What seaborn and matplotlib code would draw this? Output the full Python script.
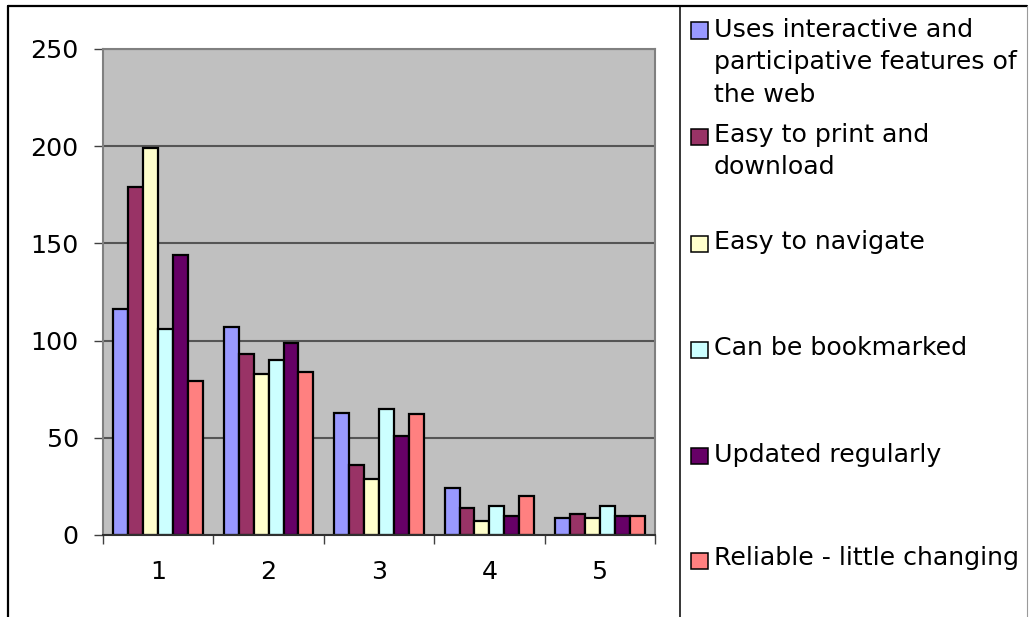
import numpy as np
import pandas as pd
import matplotlib
matplotlib.use("Agg")
import matplotlib.pyplot as plt
from matplotlib.patches import Rectangle
from matplotlib.lines import Line2D
import seaborn as sns

# ---- data -------------------------------------------------------------
ranks = ["1", "2", "3", "4", "5"]
features = [
    "Uses interactive and\nparticipative features of\nthe web",
    "Easy to print and\ndownload",
    "Easy to navigate",
    "Can be bookmarked",
    "Updated regularly",
    "Reliable - little changing",
]
uses_interactive = [116, 107, 63, 24, 9]
easy_print = [179, 93, 36, 14, 11]
easy_navigate = [199, 83, 29, 7, 9]
bookmarked = [106, 90, 65, 15, 15]
updated = [144, 99, 51, 10, 10]
reliable = [79, 84, 62, 20, 10]

colors = ["#9999FF", "#993366", "#FFFFCC", "#CCFFFF", "#660066", "#FF8080"]
y_ticks = [0, 50, 100, 150, 200, 250]

series = [uses_interactive, easy_print, easy_navigate, bookmarked, updated, reliable]
df = pd.DataFrame(
    [(r, f, v) for f, vals in zip(features, series) for r, v in zip(ranks, vals)],
    columns=["rank", "feature", "count"],
)

# ---- figure -----------------------------------------------------------
W, H = 1030, 617
sns.set_style("white")
plt.rcParams["font.family"] = ["DejaVu Sans"]
plt.rcParams["text.color"] = "black"
plt.rcParams["xtick.labelcolor"] = "black"
plt.rcParams["ytick.labelcolor"] = "black"
FS = 18.2

fig = plt.figure(figsize=(W / 100, H / 100), dpi=100, facecolor="white")


def fx(px):
    return px / W


def fy(py):
    return 1 - py / H


ax = fig.add_axes([fx(103), fy(535), fx(655) - fx(103), fy(49) - fy(535)])
ax.set_facecolor("#C0C0C0")

sns.barplot(
    data=df, x="rank", y="count", hue="feature", order=ranks, hue_order=features,
    palette=colors, width=0.81, edgecolor="black", linewidth=1.6,
    saturation=1, legend=False, ax=ax, errorbar=None,
)

ax.set_xlim(-0.5, len(ranks) - 0.5)
ax.set_ylim(0, 250)
ax.set_yticks(y_ticks)
ax.set_yticklabels([str(t) for t in y_ticks], fontsize=FS, color="black")
ax.set_xlabel("")
ax.set_ylabel("")
ax.yaxis.grid(True, color="#555555", linewidth=1.5)
ax.set_axisbelow(True)

ax.tick_params(axis="y", length=6.5, width=1.0, color="#404040", pad=11.0, left=True,
               labelcolor="black")
ax.tick_params(axis="x", which="major", length=0, pad=18, labelsize=FS, labelcolor="black")
ax.set_xticks(np.arange(-0.5, len(ranks)), minor=True)
ax.tick_params(axis="x", which="minor", length=6.5, width=1.0, color="#404040", bottom=True)

for side in ["left", "top", "right"]:
    ax.spines[side].set_color("#808080")
    ax.spines[side].set_linewidth(1.5)
ax.spines["bottom"].set_color("#303030")
ax.spines["bottom"].set_linewidth(1.5)

# ---- chart frame and legend box ----------------------------------------
fig.add_artist(Line2D([fx(7.5), fx(1027)], [fy(6), fy(6)], color="black", lw=1.6,
                      transform=fig.transFigure))
fig.add_artist(Line2D([fx(7.5), fx(7.5)], [fy(6), fy(H + 5)], color="black", lw=1.6,
                      transform=fig.transFigure))
fig.add_artist(Line2D([fx(680), fx(680)], [fy(6), fy(H + 5)], color="black", lw=1.1,
                      transform=fig.transFigure))
fig.add_artist(Line2D([fx(1026.5), fx(1026.5)], [fy(6), fy(H + 5)], color="#9a9a9a", lw=0.8,
                      transform=fig.transFigure))

# legend entries: marker centre and first-line baseline (pixels)
marker_y = [30.5, 137, 244, 349.5, 455.5, 561]
baseline_y = [37, 142, 249, 355, 462, 565]
line_step = 32.5
for label, col, my, by in zip(features, colors, marker_y, baseline_y):
    fig.add_artist(Rectangle((fx(691), fy(my + 8)), fx(708) - fx(691), fy(my - 8) - fy(my + 8),
                             facecolor=col, edgecolor="black", lw=1.1,
                             transform=fig.transFigure))
    for i, line in enumerate(label.split("\n")):
        fig.text(fx(714), fy(by + i * line_step), line, fontsize=FS,
                 ha="left", va="baseline", color="black")

fig.savefig("out.png", dpi=100, facecolor="white")
